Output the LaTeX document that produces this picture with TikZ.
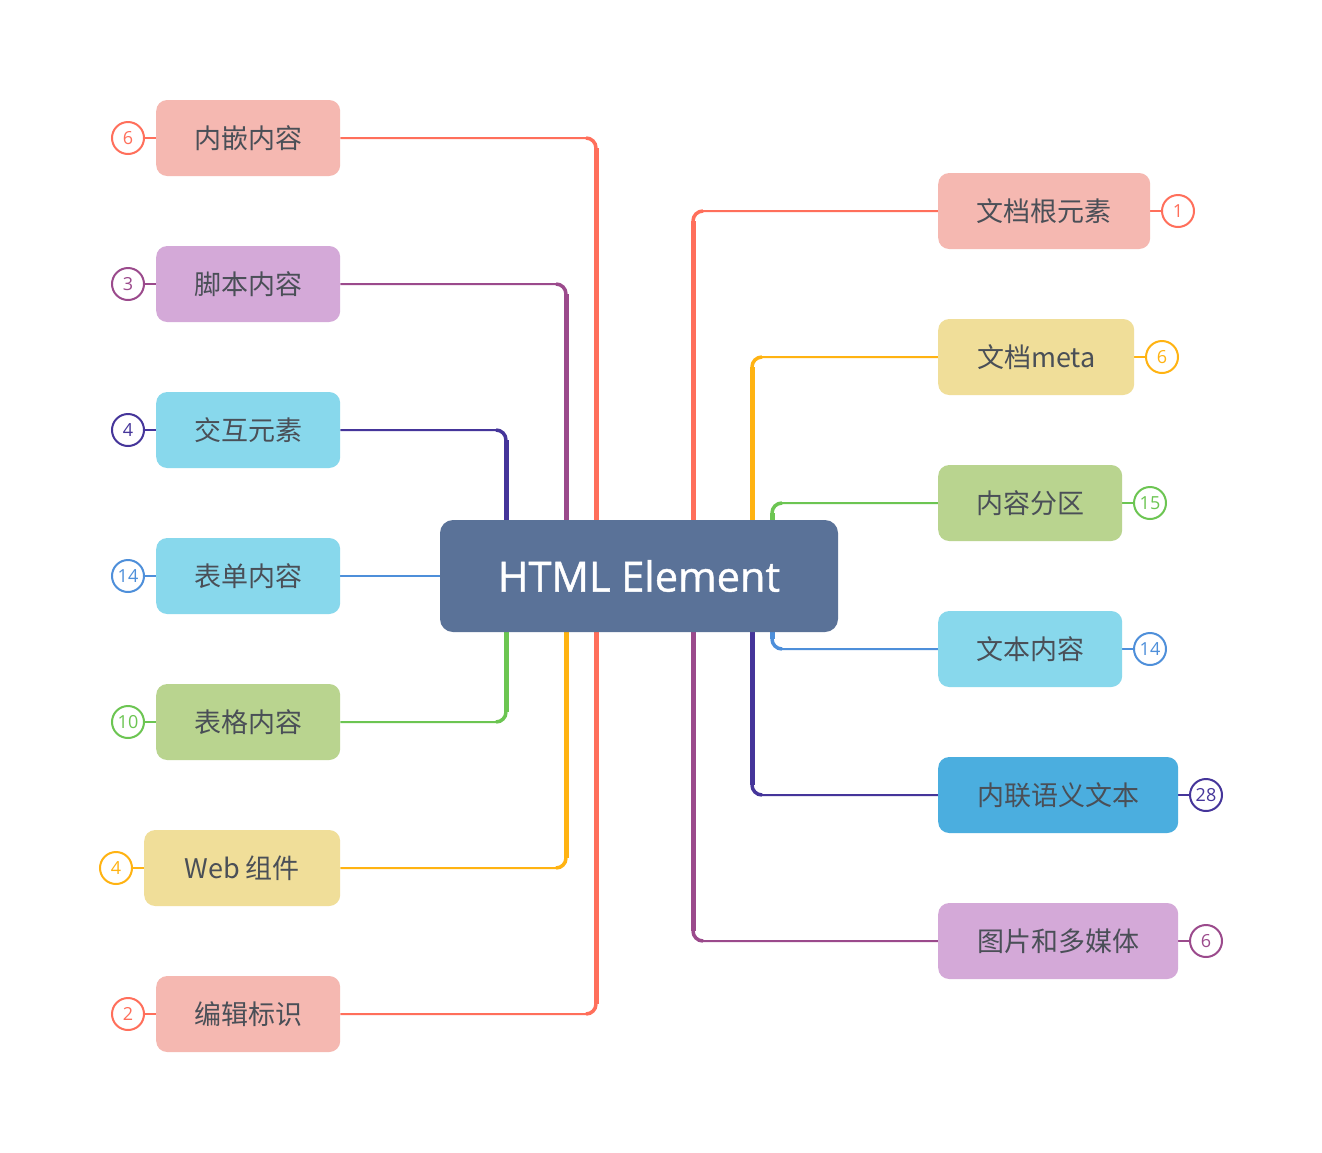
\documentclass[tikz,border=0pt]{standalone}
\usepackage{fontspec}
\usetikzlibrary{calc,backgrounds}
\newfontfamily\cjk{Noto Sans CJK SC}
\newfontfamily\hfont[FakeBold=1.1]{Open Sans}
\newfontfamily\numfont{Open Sans}
\definecolor{cOr}{HTML}{FF6F5B}
\definecolor{cPu}{HTML}{9B4A8C}
\definecolor{cDb}{HTML}{45359A}
\definecolor{cBl}{HTML}{4E8FDA}
\definecolor{cGr}{HTML}{6CC552}
\definecolor{cYe}{HTML}{FFB312}
\definecolor{fOr}{HTML}{F5B8B1}
\definecolor{fPu}{HTML}{D4A9D8}
\definecolor{fBl}{HTML}{88D8EC}
\definecolor{fGr}{HTML}{B9D48F}
\definecolor{fYe}{HTML}{F0DE99}
\definecolor{fDb}{HTML}{4BAEDF}
\definecolor{fCe}{HTML}{5A7298}
\definecolor{txt}{HTML}{4A4F57}
% #1 colour, #2 box anchor, #3 column coordinate, #4 horizontal lead, #5 vertical lead
\newcommand\mmbranch[5]{%
  \draw[thinl,#1,rounded corners=10] (#2) -| (#3);
  \draw[line width=3.5,#1,rounded corners=10] ($(#2 -| #3)+(#4,0)$) -| ($(#2 -| #3)+(0,#5)$);
  \draw[line width=5,#1] ($(#2 -| #3)+(0,#5)$) -- (#3);}
\begin{document}
\begin{tikzpicture}[x=1pt,y=-1pt,
  box/.style={rounded corners=11, minimum height=76, text=txt, inner sep=0,
    font=\cjk\fontsize{27}{30}\selectfont},
  badge/.style={circle, draw, line width=2, fill=white, minimum size=32, inner sep=0,
    font=\numfont\fontsize{18}{20}\selectfont},
  thinl/.style={line width=2},
  centre/.style={rounded corners=13, fill=fCe, text=white, minimum width=398,
    minimum height=112, inner sep=0, font=\hfont\fontsize{41.5}{45}\selectfont}]
\useasboundingbox (0,0) rectangle (1322,1152);
% centre
\node[centre] (c) at (639,576) {HTML Element};
% left boxes
\node[box, fill=fOr, minimum width=184, anchor=west] (l1) at (156,138) {内嵌内容};
\node[box, fill=fPu, minimum width=184, anchor=west] (l2) at (156,284) {脚本内容};
\node[box, fill=fBl, minimum width=184, anchor=west] (l3) at (156,430) {交互元素};
\node[box, fill=fBl, minimum width=184, anchor=west] (l4) at (156,576) {表单内容};
\node[box, fill=fGr, minimum width=184, anchor=west] (l5) at (156,722) {表格内容};
\node[box, fill=fYe, minimum width=196, anchor=west] (l6) at (144,868) {Web 组件};
\node[box, fill=fOr, minimum width=184, anchor=west] (l7) at (156,1014) {编辑标识};
% right boxes
\node[box, fill=fOr, minimum width=212, anchor=west] (r1) at (938,211) {文档根元素};
\node[box, fill=fYe, minimum width=196, anchor=west] (r2) at (938,357) {文档meta};
\node[box, fill=fGr, minimum width=184, anchor=west] (r3) at (938,503) {内容分区};
\node[box, fill=fBl, minimum width=184, anchor=west] (r4) at (938,649) {文本内容};
\node[box, fill=fDb, minimum width=240, anchor=west] (r5) at (938,795) {内联语义文本};
\node[box, fill=fPu, minimum width=240, anchor=west] (r6) at (938,941) {图片和多媒体};
% badges
\node[badge, draw=cOr, text=cOr] (nl1) at (128,138) {6};
\node[badge, draw=cPu, text=cPu] (nl2) at (128,284) {3};
\node[badge, draw=cDb, text=cDb] (nl3) at (128,430) {4};
\node[badge, draw=cBl, text=cBl] (nl4) at (128,576) {14};
\node[badge, draw=cGr, text=cGr] (nl5) at (128,722) {10};
\node[badge, draw=cYe, text=cYe] (nl6) at (116,868) {4};
\node[badge, draw=cOr, text=cOr] (nl7) at (128,1014) {2};
\node[badge, draw=cOr, text=cOr] (nr1) at (1178,211) {1};
\node[badge, draw=cYe, text=cYe] (nr2) at (1162,357) {6};
\node[badge, draw=cGr, text=cGr] (nr3) at (1150,503) {15};
\node[badge, draw=cBl, text=cBl] (nr4) at (1150,649) {14};
\node[badge, draw=cDb, text=cDb] (nr5) at (1206,795) {28};
\node[badge, draw=cPu, text=cPu] (nr6) at (1206,941) {6};
% branch columns
\coordinate (vl1) at (596,576);
\coordinate (vl2) at (566,576);
\coordinate (vl3) at (506,576);
\coordinate (vl5) at (506,576);
\coordinate (vl6) at (566,576);
\coordinate (vl7) at (596,576);
\coordinate (vr1) at (693,576);
\coordinate (vr2) at (752,576);
\coordinate (vr3) at (772,576);
\coordinate (vr4) at (772,576);
\coordinate (vr5) at (752,576);
\coordinate (vr6) at (693,576);
\begin{scope}[on background layer]
\fill[white] (0,0) rectangle (1322,1152);
% badge links
\draw[thinl, cOr] (nl1) -- (l1);
\draw[thinl, cPu] (nl2) -- (l2);
\draw[thinl, cDb] (nl3) -- (l3);
\draw[thinl, cBl] (nl4) -- (l4);
\draw[thinl, cGr] (nl5) -- (l5);
\draw[thinl, cYe] (nl6) -- (l6);
\draw[thinl, cOr] (nl7) -- (l7);
\draw[thinl, cOr] (nr1) -- (r1);
\draw[thinl, cYe] (nr2) -- (r2);
\draw[thinl, cGr] (nr3) -- (r3);
\draw[thinl, cBl] (nr4) -- (r4);
\draw[thinl, cDb] (nr5) -- (r5);
\draw[thinl, cPu] (nr6) -- (r6);
% left connectors
\mmbranch{cOr}{l1.east}{vl1}{-10}{10}
\mmbranch{cPu}{l2.east}{vl2}{-10}{10}
\mmbranch{cDb}{l3.east}{vl3}{-10}{10}
\draw[thinl, cBl] (l4.east) -- (c.west);
\mmbranch{cGr}{l5.east}{vl5}{-10}{-10}
\mmbranch{cYe}{l6.east}{vl6}{-10}{-10}
\mmbranch{cOr}{l7.east}{vl7}{-10}{-10}
% right connectors
\mmbranch{cOr}{r1.west}{vr1}{10}{10}
\mmbranch{cYe}{r2.west}{vr2}{10}{10}
\mmbranch{cGr}{r3.west}{vr3}{10}{10}
\mmbranch{cBl}{r4.west}{vr4}{10}{-10}
\mmbranch{cDb}{r5.west}{vr5}{10}{-10}
\mmbranch{cPu}{r6.west}{vr6}{10}{-10}
\end{scope}
\end{tikzpicture}
\end{document}
